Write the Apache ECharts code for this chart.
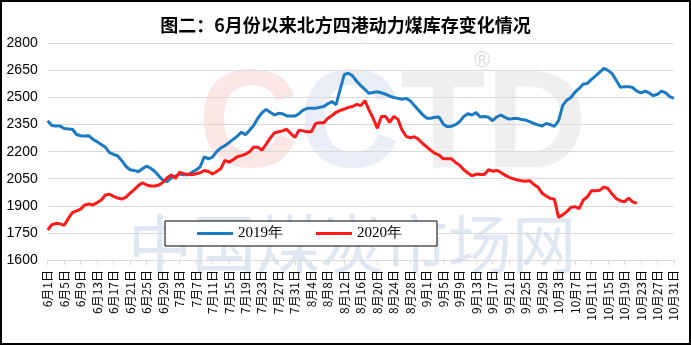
<!DOCTYPE html>
<html><head><meta charset="utf-8">
<script src="https://cdn.jsdelivr.net/npm/echarts@6/dist/echarts.min.js"></script>
<style>html,body{margin:0;padding:0;background:#fff}#c{width:691px;height:345px}</style>
</head><body><div id="c"></div>
<script>
// Categories: daily dates from 6月1日 to 10月31日
const months = [6, 7, 8, 9, 10];
const monthDays = [30, 31, 31, 30, 31];
const categories = [];
months.forEach((m, k) => { for (let d = 1; d <= monthDays[k]; d++) categories.push(m + '月' + d + '日'); });

const seriesNames = ['2019年', '2020年'];

const values2019 = [
  2371,2345,2342,2342,2328,2325,2324,2295,2288,2287,
  2288,2268,2255,2240,2225,2195,2185,2176,2150,2118,
  2100,2096,2089,2105,2120,2108,2090,2065,2040,2034,
  2055,2065,2076,2072,2072,2085,2098,2115,2172,2160,
  2170,2200,2220,2233,2250,2268,2285,2308,2293,2318,
  2345,2385,2415,2434,2418,2403,2412,2410,2398,2397,
  2397,2410,2430,2440,2440,2440,2445,2450,2465,2477,
  2460,2545,2628,2634,2620,2590,2565,2545,2523,2528,
  2532,2526,2518,2507,2500,2495,2490,2495,2482,2455,
  2430,2405,2385,2385,2390,2392,2353,2338,2340,2350,
  2366,2395,2410,2403,2416,2392,2395,2390,2371,2392,
  2403,2390,2380,2384,2384,2378,2375,2366,2356,2348,
  2342,2356,2350,2340,2370,2455,2485,2500,2530,2550,
  2575,2578,2600,2620,2640,2661,2650,2632,2595,2556,
  2560,2560,2555,2535,2525,2535,2525,2510,2518,2535,
  2525,2505,2495
];

const values2020 = [
  1766,1795,1803,1800,1792,1830,1862,1872,1882,1905,
  1910,1905,1918,1932,1960,1964,1952,1943,1937,1948,
  1970,1990,2012,2028,2015,2010,2010,2015,2030,2055,
  2071,2052,2086,2078,2075,2072,2078,2083,2096,2090,
  2076,2090,2105,2152,2142,2155,2172,2178,2186,2200,
  2225,2225,2208,2240,2275,2303,2310,2315,2324,2300,
  2279,2318,2315,2310,2310,2355,2360,2360,2385,2400,
  2418,2428,2436,2445,2450,2462,2455,2482,2430,2385,
  2329,2394,2395,2362,2395,2380,2320,2285,2276,2283,
  2268,2245,2227,2207,2190,2181,2160,2160,2160,2140,
  2125,2100,2082,2066,2076,2074,2073,2100,2092,2096,
  2085,2070,2058,2050,2043,2039,2036,2039,2018,2003,
  1970,1955,1940,1936,1836,1850,1868,1892,1895,1885,
  1932,1950,1984,1984,1986,2005,1995,1965,1940,1928,
  1922,1943,1922,1914
];

const yMin = 1600, yMax = 2800, yStep = 150;
const titleText = '图二：6月份以来北方四港动力煤库存变化情况';

const chart = echarts.init(document.getElementById('c'), null, {renderer: 'canvas'});
chart.setOption({
  animation: false,
  backgroundColor: '#fff',
  title: {
    text: titleText, left: 'center', top: 11,
    textStyle: {fontSize: 18, fontWeight: 'bold', color: '#000', fontFamily: 'Noto Sans CJK SC'}
  },
  graphic: [
    {type: 'text', z: -10, left: 128, top: 212, silent: true,
     style: {text: '中国煤炭市场网', fontSize: 64, fontFamily: 'Noto Sans CJK SC', fill: '#dfe7f2'}},
    {type: 'text', z: -10, left: 198, top: 58, silent: true,
     style: {text: '{a|C}{b|C}{c|TD}', fontSize: 140, fontWeight: 'bold', fontFamily: 'Liberation Sans',
       rich: {
         a: {fontSize: 140, fontWeight: 'bold', fontFamily: 'Liberation Sans', fill: '#fbe6e6', color: '#fbe6e6'},
         b: {fontSize: 140, fontWeight: 'bold', fontFamily: 'Liberation Sans', fill: '#e9eef6', color: '#e9eef6'},
         c: {fontSize: 140, fontWeight: 'bold', fontFamily: 'Liberation Sans', fill: '#efefef', color: '#efefef'}
       }}},
    {type: 'text', z: -10, left: 474, top: 50, silent: true,
     style: {text: '®', fontSize: 22, fontFamily: 'Liberation Sans', fill: '#d8d8d8'}},
    {type: 'rect', z: 100, silent: true, shape: {x: 1, y: 1, width: 689, height: 343},
     style: {fill: 'none', stroke: '#000', lineWidth: 2}}
  ],
  legend: {
    data: seriesNames, left: 165, top: 221,
    padding: [5, 35, 5, 32], itemGap: 33, itemWidth: 36, itemHeight: 3,
    icon: 'rect', borderColor: '#000', borderWidth: 1, backgroundColor: '#fff',
    textStyle: {fontSize: 15, fontFamily: 'Liberation Serif', color: '#000'}
  },
  grid: {left: 47.7, right: 17.1, top: 43.3, bottom: 85, containLabel: false},
  xAxis: {
    type: 'category', data: categories, boundaryGap: false,
    axisLine: {lineStyle: {color: '#d9d9d9', width: 1}},
    axisTick: {interval: 3, length: 5, lineStyle: {color: '#d9d9d9'}},
    axisLabel: {interval: 3, rotate: 90, fontSize: 12, margin: 10, color: '#000', fontFamily: 'Noto Sans CJK SC'},
    splitLine: {show: false}
  },
  yAxis: {
    type: 'value', min: yMin, max: yMax, interval: yStep,
    axisLine: {show: false}, axisTick: {show: false},
    axisLabel: {fontSize: 14, color: '#000', margin: 10, fontFamily: 'Liberation Sans',
      formatter: v => String(v)},
    splitLine: {lineStyle: {color: '#d9d9d9', width: 1}}
  },
  series: [
    {name: seriesNames[0], type: 'line', data: values2019, symbol: 'none', smooth: false,
     lineStyle: {width: 3, color: '#1b7ac2'}, itemStyle: {color: '#1b7ac2'}},
    {name: seriesNames[1], type: 'line', data: values2020, symbol: 'none', smooth: false,
     lineStyle: {width: 3, color: '#ff1a1a'}, itemStyle: {color: '#ff1a1a'}}
  ]
});
</script></body></html>
